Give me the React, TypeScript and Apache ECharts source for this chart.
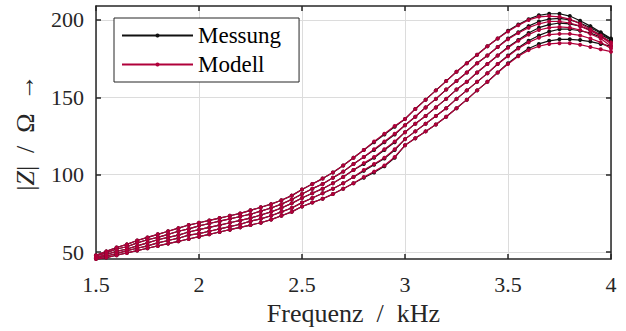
import React, { useEffect, useRef } from "react";
import * as echarts from "echarts";

const freq = [
  1.5, 1.55, 1.6, 1.65, 1.7, 1.75, 1.8, 1.85, 1.9, 1.95,
  2.0, 2.05, 2.1, 2.15, 2.2, 2.25, 2.3, 2.35, 2.4, 2.45,
  2.5, 2.55, 2.6, 2.65, 2.7, 2.75, 2.8, 2.85, 2.9, 2.95,
  3.0, 3.05, 3.1, 3.15, 3.2, 3.25, 3.3, 3.35, 3.4, 3.45,
  3.5, 3.55, 3.6, 3.65, 3.7, 3.75, 3.8, 3.85, 3.9, 3.95, 4.0,
];

// Messung (measurement) curves, |Z| in Ohm
const mess1 = [
  48, 50.5, 53, 55, 57.5, 59.5, 61.5, 63.5, 65.5, 67.5,
  69, 70.5, 72, 73.5, 75, 77, 79, 81, 83.5, 86.5,
  90.5, 94, 97.5, 101.5, 106, 111, 116, 121, 126, 131,
  136, 142.5, 148.5, 154.5, 160.5, 166.5, 172, 177.5, 183, 188,
  193, 197, 200.5, 203, 204, 204, 202.5, 199.5, 196, 192, 188,
];
const mess2 = [
  47.5, 49.5, 52, 53.5, 56, 58, 59.5, 61.5, 63.5, 65,
  67, 68.5, 70, 71.5, 73, 74.5, 76.5, 78.5, 81, 84,
  87.5, 91, 94, 98, 102, 107, 111.5, 116, 121, 126,
  132, 137.5, 143.5, 149, 155, 160.5, 166, 172, 177, 182.5,
  188, 192, 196, 199, 200.5, 201, 200, 198, 195, 191.5, 187.5,
];
const mess3 = [
  46.5, 48.5, 50.5, 52, 54, 56, 58, 59.5, 61, 63,
  64.5, 66, 67.5, 69, 70.5, 72, 74, 76, 78.5, 81.5,
  85, 88, 91, 94.5, 98.5, 103, 107, 111, 116, 121,
  127.5, 133, 138, 143.5, 149, 155, 160, 166, 171.5, 177,
  182.5, 187, 191.5, 195, 197, 198, 197.5, 196, 193.5, 190.5, 187,
];
const mess4 = [
  46, 47.5, 49, 51, 52.5, 54, 56, 57.5, 59, 61,
  62, 63.5, 65, 66.5, 68, 70, 71.5, 73.5, 76, 78.5,
  82, 85, 88, 91, 94.5, 98.5, 102.5, 106.5, 110.5, 116,
  123, 128, 133, 138, 143, 149, 154.5, 160, 165.5, 171.5,
  177, 182, 186.5, 190, 192.5, 194, 194, 193, 191.5, 189, 186,
];
const mess5 = [
  45.5, 46.5, 48, 49.5, 51, 52.5, 54, 55.5, 57, 58.5,
  60, 61.5, 63, 64.5, 66, 67.5, 69, 71, 73.5, 76,
  79.5, 82, 84.5, 87.5, 91, 94.5, 98, 101.5, 105.5, 111,
  119, 123.5, 128, 132.5, 137.5, 143, 148.5, 154.5, 160, 166,
  172, 177, 181.5, 184.5, 186.5, 187.5, 187.5, 187, 186, 184.5, 183,
];

// Modell (model) curves
const mod1 = [
  48, 50.5, 53, 55, 57.5, 59.5, 61.5, 63.5, 65.5, 67.5,
  69, 70.5, 72, 73.5, 75, 77, 79, 81, 83.5, 86.5,
  90.5, 94, 97.5, 101.5, 106, 111, 116, 121.5, 126.5, 131.5,
  136, 142.5, 148.5, 154.5, 160.5, 166.5, 172, 177.5, 183, 188,
  192.5, 196.5, 200, 202, 202.5, 202, 200.5, 197.5, 194, 190, 185.5,
];
const mod2 = [
  47.5, 49.5, 52, 53.5, 56, 58, 59.5, 61.5, 63.5, 65,
  67, 68.5, 70, 71.5, 73, 74.5, 76.5, 78.5, 81, 84,
  87.5, 91, 94, 98, 102, 107, 111.5, 116.5, 121.5, 126.5,
  132, 137.5, 143.5, 149, 155, 160.5, 166, 172, 177, 182.5,
  187.5, 191.5, 195, 197.5, 199, 199, 198, 196, 193, 189.5, 184.5,
];
const mod3 = [
  46.5, 48.5, 50.5, 52, 54, 56, 58, 59.5, 61, 63,
  64.5, 66, 67.5, 69, 70.5, 72, 74, 76, 78.5, 81.5,
  85, 88, 91, 94.5, 98.5, 103, 107.5, 111.5, 116.5, 121.5,
  127.5, 133, 138, 143.5, 149, 155, 160, 166, 171.5, 177,
  182, 186.5, 190.5, 193.5, 195, 195.5, 195, 193.5, 191, 188, 183,
];
const mod4 = [
  46, 47.5, 49, 51, 52.5, 54, 56, 57.5, 59, 61,
  62, 63.5, 65, 66.5, 68, 70, 71.5, 73.5, 76, 78.5,
  82, 85, 88, 91, 94.5, 98.5, 103, 107, 111, 116.5,
  123, 128, 133, 138, 143, 149, 154.5, 160, 165.5, 171.5,
  176.5, 181.5, 185.5, 188.5, 190.5, 191, 191, 190, 188, 185.5, 181.5,
];
const mod5 = [
  45.5, 46.5, 48, 49.5, 51, 52.5, 54, 55.5, 57, 58.5,
  60, 61.5, 63, 64.5, 66, 67.5, 69, 71, 73.5, 76,
  79.5, 82, 84.5, 87.5, 91, 94.5, 98.5, 102, 106, 111.5,
  119, 123.5, 128, 132.5, 137.5, 143, 148.5, 154.5, 160, 166,
  171.5, 176.5, 180.5, 183, 184.5, 185, 185, 184, 182.5, 181, 179.5,
];

const messCurves = [mess1, mess2, mess3, mess4, mess5];
const modCurves = [mod1, mod2, mod3, mod4, mod5];
const yTicks = [50, 100, 150, 200];

const FONT = "Liberation Serif";
const AXIS_COLOR = "#262626";
const MESS_COLOR = "#111111";
const MOD_COLOR = "#b0003a";

export default function App() {
  const ref = useRef<HTMLDivElement>(null);

  useEffect(() => {
    if (!ref.current) return;
    const chart = echarts.init(ref.current, undefined, { renderer: "svg" });

    const mkSeries = (name: string, vals: number[], color: string) => ({
      name,
      type: "line",
      data: freq.map((f, i) => [f, vals[i]]),
      symbol: "circle",
      symbolSize: 4,
      showAllSymbol: true,
      lineStyle: { color, width: 1.2 },
      itemStyle: { color },
      xAxisIndex: 0,
      yAxisIndex: 0,
    });

    const series = [
      ...messCurves.map((v) => mkSeries("Messung", v, MESS_COLOR)),
      ...modCurves.map((v) => mkSeries("Modell", v, MOD_COLOR)),
    ];

    const tickCommon = {
      show: true,
      inside: true,
      length: 5,
      lineStyle: { color: AXIS_COLOR, width: 1.5 },
    };

    chart.setOption({
      animation: false,
      backgroundColor: "#ffffff",
      textStyle: { fontFamily: FONT },
      grid: { left: 96, right: 15, top: 6, bottom: 69, containLabel: false },
      legend: {
        data: ["Messung", "Modell"],
        orient: "vertical",
        left: 114,
        top: 18,
        itemWidth: 71,
        itemHeight: 5,
        itemGap: 6,
        padding: [6, 18, 6, 7],
        backgroundColor: "#ffffff",
        borderColor: AXIS_COLOR,
        borderWidth: 1,
        textStyle: { fontFamily: FONT, fontSize: 23, color: "#000" },
      },
      xAxis: [
        {
          type: "value",
          min: 1.5,
          max: 4,
          interval: 0.5,
          position: "bottom",
          name: "Frequenz\u2002/\u2002kHz",
          nameLocation: "middle",
          nameGap: 40,
          nameTextStyle: { fontFamily: FONT, fontSize: 26, color: AXIS_COLOR },
          axisLine: { show: true, onZero: false, lineStyle: { color: AXIS_COLOR, width: 1.5 } },
          axisTick: tickCommon,
          axisLabel: { fontFamily: FONT, fontSize: 22, color: AXIS_COLOR, margin: 14 },
          splitLine: { show: true, lineStyle: { color: "#dcdcdc", width: 1 } },
        },
        {
          type: "value",
          min: 1.5,
          max: 4,
          interval: 0.5,
          position: "top",
          axisLine: { show: true, onZero: false, lineStyle: { color: AXIS_COLOR, width: 1.5 } },
          axisTick: tickCommon,
          axisLabel: { show: false },
          splitLine: { show: false },
        },
      ],
      yAxis: [
        {
          type: "value",
          min: 45.5,
          max: 209,
          splitNumber: 3,
          position: "left",
          name: "|{i|Z}|\u2002/\u2002Ω\u2002→",
          nameLocation: "middle",
          nameGap: 58,
          nameRotate: 90,
          nameTextStyle: {
            fontFamily: FONT,
            fontSize: 26,
            color: AXIS_COLOR,
            rich: { i: { fontFamily: FONT, fontSize: 26, fontStyle: "italic", color: AXIS_COLOR } },
          },
          axisLine: { show: true, onZero: false, lineStyle: { color: AXIS_COLOR, width: 1.5 } },
          axisTick: { ...tickCommon, customValues: yTicks },
          axisLabel: { fontFamily: FONT, fontSize: 22, color: AXIS_COLOR, margin: 12, customValues: yTicks },
          splitLine: { show: true, lineStyle: { color: "#dcdcdc", width: 1 } },
        },
        {
          type: "value",
          min: 45.5,
          max: 209,
          splitNumber: 3,
          position: "right",
          axisLine: { show: true, onZero: false, lineStyle: { color: AXIS_COLOR, width: 1.5 } },
          axisTick: { ...tickCommon, customValues: yTicks },
          axisLabel: { show: false },
          splitLine: { show: false },
        },
      ],
      series,
    });

    return () => chart.dispose();
  }, []);

  return (
    <div
      ref={ref}
      style={{ position: "absolute", left: 0, top: 0, width: 626, height: 331, background: "#fff" }}
    />
  );
}
